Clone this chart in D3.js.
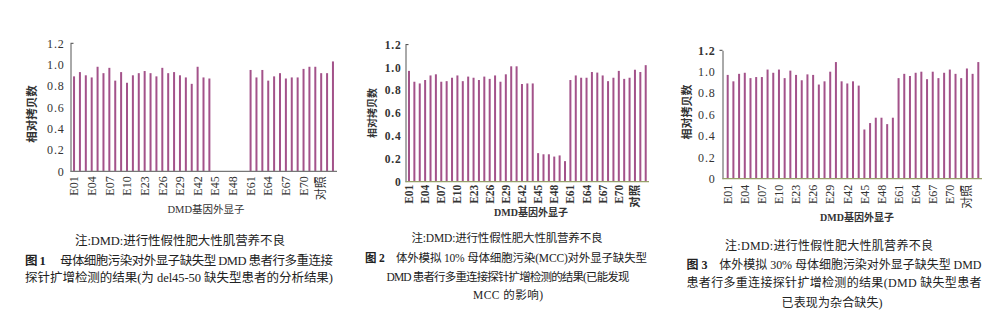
<!DOCTYPE html>
<html>
<head>
<meta charset="utf-8">
<script src="https://cdn.jsdelivr.net/npm/d3@7/dist/d3.min.js"></script>
<style>
  html, body { margin: 0; padding: 0; background: #fff; }
  svg { display: block; }
</style>
</head>
<body>
<svg id="chart" width="1007" height="335"></svg>
<script>
// MLPA probes (DMD exons + control probes), one bar each
const categories = [
  "E01","E02","E03","E04","E05","E06","E07","E08","E09","E10",
  "E21","E22","E23","E24","E25","E26","E27","E28","E29","E30",
  "E41","E42","E43","E44","E45","E46","E47","E48","E49","E50",
  "E61","E62","E63","E64","E65","E66","E67","E68","E69","E70",
  "C1","C2","C3","C4","C5"
];
// Labels shown on every third probe
const tickLabels = ["E01","E04","E07","E10","E23","E26","E29","E42","E45","E48","E61","E64","E67","E70","对照"];
const yTicks = [0, 0.2, 0.4, 0.6, 0.8, 1.0, 1.2];

// Relative copy number, figure 1 (del45-50 patient)
const copyFig1 = [0.89,0.93,0.90,0.88,0.98,0.92,0.97,0.85,0.93,0.83,
                  0.90,0.92,0.94,0.92,0.89,0.97,0.92,0.93,0.90,0.88,
                  0.82,0.98,0.88,0.87,0,0,0,0,0,0,
                  0.95,0.88,0.95,0.85,0.89,0.92,0.87,0.88,0.88,0.96,
                  0.98,0.98,0.92,0.92,1.03];
// Figure 2: 10% simulated maternal cell contamination
const copyFig2 = [0.97,0.875,0.86,0.89,0.93,0.94,0.875,0.88,0.91,0.93,
                  0.88,0.92,0.91,0.89,0.92,0.90,0.93,0.875,0.94,1.01,
                  1.01,0.855,0.86,0.86,0.25,0.24,0.24,0.22,0.23,0.18,
                  0.89,0.93,0.91,0.91,0.96,0.955,0.93,0.88,0.91,0.97,
                  0.90,0.91,0.98,0.96,1.02];
// Figure 3: 30% simulated maternal cell contamination
const copyFig3 = [0.97,0.91,0.98,0.99,0.94,0.95,0.95,1.02,0.99,1.02,
                  0.94,1.01,0.97,0.92,0.975,0.97,0.88,0.91,1.00,1.09,
                  0.91,0.89,0.91,0.87,0.46,0.52,0.57,0.57,0.51,0.57,
                  0.94,0.98,0.96,0.99,1.00,0.93,1.00,0.94,0.99,1.02,
                  0.98,0.94,1.03,0.98,1.09];

const noteText = "注:DMD:进行性假性肥大性肌营养不良";
const yTitle = "相对拷贝数";
const xTitle = "DMD基因外显子";

const svg = d3.select("#chart");
const BAR = "#a3528a";
const SERIF = "'Liberation Serif', 'Noto Sans CJK SC', serif";

const panels = [
  {
    values: copyFig1,
    axisX: 70.5, bandL: 71.1, bandR: 335.9, xEnd: 337,
    y0: 171.3, yTop: 43.3, xAxisColor: "#777", bold: false,
    tickGap: 6, tickFont: 12, topTickDir: 1,
    yTitleX: 32, yTitleY: 114, yTitleSize: 11.5,
    xTitleX: 206, xTitleY: 209, xTitleSize: 10.5,
    caption: [
      { x: 180, y: 240, w: 210, size: 12.5, parts: [[noteText, false]] },
      { x: 179, y: 260, w: 308, size: 12.5, parts: [["图 1", true], ["　 母体细胞污染对外显子缺失型 DMD 患者行多重连接", false]] },
      { x: 179, y: 277.5, w: 308, size: 12.5, parts: [["探针扩增检测的结果(为 del45-50 缺失型患者的分析结果)", false]] }
    ]
  },
  {
    values: copyFig2,
    axisX: 405.5, bandL: 406.3, bandR: 648.4, xEnd: 649,
    y0: 181.7, yTop: 44.6, xAxisColor: "#97a06a", bold: true,
    tickGap: 4, tickFont: 11.5, topTickDir: 1,
    yTitleX: 372, yTitleY: 113, yTitleSize: 10,
    xTitleX: 531, xTitleY: 212.5, xTitleSize: 10,
    caption: [
      { x: 507, y: 237.7, w: 191, size: 11.5, parts: [[noteText, false]] },
      { x: 506, y: 257.7, w: 282, size: 11.5, parts: [["图 2", true], ["　体外模拟 10% 母体细胞污染(MCC)对外显子缺失型", false]] },
      { x: 508, y: 276.7, w: 243, size: 11.5, parts: [["DMD 患者行多重连接探针扩增检测的结果(已能发现", false]] },
      { x: 508, y: 295, w: 70, size: 11.5, parts: [["MCC 的影响)", false]] }
    ]
  },
  {
    values: copyFig3,
    axisX: 722.5, bandL: 724.85, bandR: 981.15, xEnd: 982,
    y0: 178.7, yTop: 50.3, xAxisColor: "#97a06a", bold: false,
    tickGap: 7, tickFont: 12, topTickDir: -1,
    yTitleX: 687, yTitleY: 112, yTitleSize: 11,
    xTitleX: 857, xTitleY: 217.5, xTitleSize: 10,
    caption: [
      { x: 829, y: 245, w: 208, size: 12, parts: [[noteText, false]] },
      { x: 834, y: 264.3, w: 295, size: 12, parts: [["图 3", true], ["　体外模拟 30% 母体细胞污染对外显子缺失型 DMD", false]] },
      { x: 834, y: 282.3, w: 295, size: 12, parts: [["患者行多重连接探针扩增检测的结果(DMD 缺失型患者", false]] },
      { x: 832, y: 302, w: 101, size: 12, parts: [["已表现为杂合缺失)", false]] }
    ]
  }
];

const fmtY = v => v === 0 ? "0" : d3.format(".1f")(v);

panels.forEach((p, pi) => {
  const g = svg.append("g").attr("class", "panel-" + (pi + 1));

  const x = d3.scaleBand().domain(categories).range([p.bandL, p.bandR]).padding(0);
  const y = d3.scaleLinear().domain([0, 1.2]).range([p.y0, p.yTop]);

  // bars
  const barW = 2;
  g.append("g").selectAll("rect")
    .data(categories.map((c, i) => ({ c, v: p.values[i] })))
    .join("rect")
    .attr("x", d => x(d.c) + x.bandwidth() / 2 - barW / 2)
    .attr("y", d => y(d.v))
    .attr("width", barW)
    .attr("height", d => y(0) - y(d.v))
    .attr("fill", BAR);

  // y axis
  const yAxis = d3.axisLeft(y).tickValues(yTicks).tickSize(0).tickPadding(p.tickGap).tickFormat(fmtY);
  const ya = g.append("g").attr("transform", `translate(${p.axisX},0)`).call(yAxis);
  ya.select(".domain").attr("stroke", "#555").attr("stroke-width", 1);
  ya.selectAll("text")
    .attr("font-family", SERIF)
    .attr("font-size", p.tickFont)
    .attr("font-weight", d => (p.bold || (pi === 2 && d === 1.2)) ? "bold" : "normal")
    .attr("letter-spacing", 0.8)
    .attr("fill", "#333");
  // short tick at the top of the value axis
  ya.append("line")
    .attr("x1", 0).attr("x2", 3 * p.topTickDir)
    .attr("y1", y(1.2)).attr("y2", y(1.2))
    .attr("stroke", "#444").attr("stroke-width", 1);

  // x axis baseline
  g.append("line")
    .attr("x1", p.axisX).attr("x2", p.xEnd)
    .attr("y1", y(0)).attr("y2", y(0))
    .attr("stroke", p.xAxisColor).attr("stroke-width", 1.2);

  // x tick labels, rotated
  const tickCats = categories.filter((c, i) => i % 3 === 0);
  const xAxis = d3.axisBottom(x).tickValues(tickCats).tickSize(0)
    .tickFormat((c) => tickLabels[tickCats.indexOf(c)]);
  const xa = g.append("g").attr("transform", `translate(0,${y(0)})`).call(xAxis);
  xa.select(".domain").remove();
  xa.selectAll("text")
    .attr("transform", "rotate(-90)")
    .attr("text-anchor", "end")
    .attr("x", -p.tickGap + 1)
    .attr("y", 0)
    .attr("dy", "0.35em")
    .attr("font-family", SERIF)
    .attr("font-size", p.tickFont)
    .attr("font-weight", p.bold ? "bold" : "normal")
    .attr("fill", "#333");

  // axis titles
  g.append("text")
    .attr("transform", `translate(${p.yTitleX},${p.yTitleY}) rotate(-90)`)
    .attr("text-anchor", "middle").attr("dy", "0.35em")
    .attr("font-family", SERIF).attr("font-size", p.yTitleSize)
    .attr("font-weight", "bold").attr("fill", "#333")
    .text(yTitle);
  g.append("text")
    .attr("x", p.xTitleX).attr("y", p.xTitleY)
    .attr("text-anchor", "middle").attr("dy", "0.35em")
    .attr("font-family", SERIF).attr("font-size", p.xTitleSize)
    .attr("font-weight", pi === 0 ? "normal" : "bold").attr("fill", "#333")
    .text(xTitle);

  // caption lines
  p.caption.forEach(line => {
    const t = g.append("text")
      .attr("x", line.x).attr("y", line.y)
      .attr("text-anchor", "middle").attr("dy", "0.38em")
      .attr("font-family", SERIF).attr("font-size", line.size)
      .attr("fill", "#222")
      .attr("textLength", line.w).attr("lengthAdjust", "spacing");
    line.parts.forEach(([s, b]) => {
      t.append("tspan").attr("font-weight", b ? "bold" : "normal").text(s);
    });
  });
});
</script>
</body>
</html>
